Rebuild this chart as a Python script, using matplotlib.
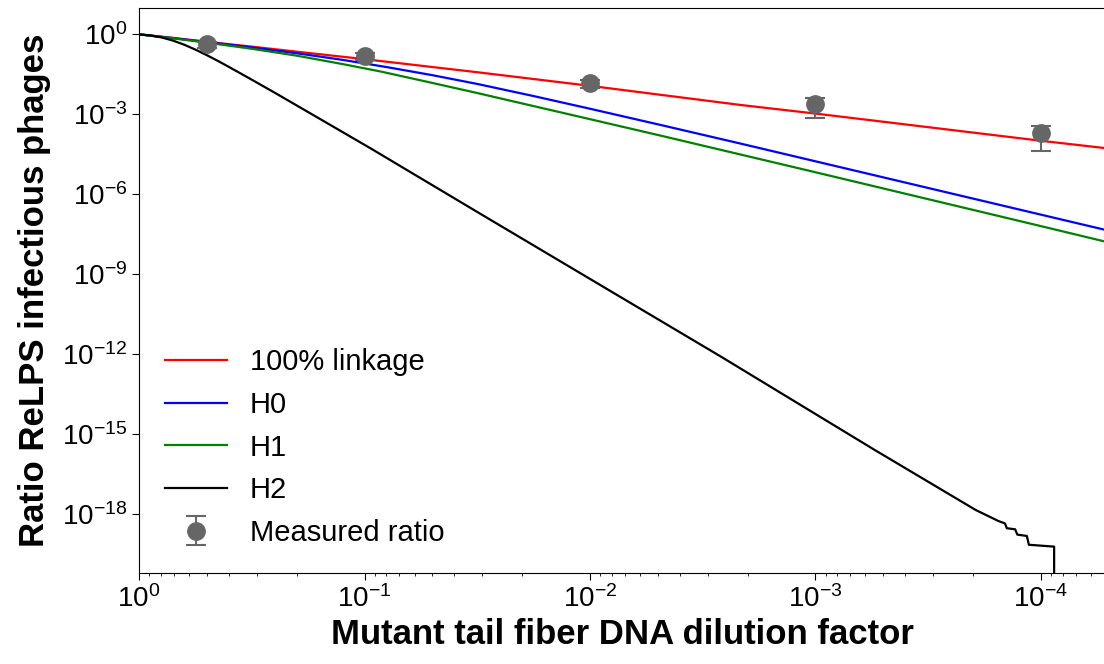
import numpy as np
import matplotlib

matplotlib.use("Agg")
import matplotlib.pyplot as plt
from matplotlib.ticker import NullLocator

plt.rcParams["font.family"] = ["Liberation Sans", "DejaVu Sans"]
plt.rcParams["mathtext.fontset"] = "custom"
plt.rcParams["mathtext.rm"] = "Liberation Sans"
plt.rcParams["mathtext.it"] = "Liberation Sans:italic"
plt.rcParams["mathtext.bf"] = "Liberation Sans:bold"

# model curves as log10(dilution) -> log10(ratio)
linkage_logx = [0, -0.15, -0.3, -0.5, -0.7, -1.0, -1.5, -2.0, -2.67, -3.0, -3.5, -4.0, -4.29]
linkage_logy = [0, -0.13, -0.28, -0.46, -0.65, -0.93, -1.42, -1.93, -2.65, -2.97, -3.48, -3.99, -4.27]

h0_logx = [0, -0.15, -0.3, -0.5, -0.7, -0.9, -1.1, -1.3, -1.5, -1.75, -2.0,
           -2.33, -2.67, -3.0, -3.5, -4.0, -4.29]
h0_logy = [0, -0.14, -0.285, -0.489, -0.709, -0.953, -1.229, -1.529, -1.859,
           -2.314, -2.789, -3.43, -4.10, -4.76, -5.76, -6.76, -7.34]

h1_logx = [0, -0.15, -0.3, -0.5, -0.7, -0.9, -1.07, -1.3, -1.5, -1.75, -2.0,
           -2.33, -2.67, -3.0, -3.5, -4.0, -4.29]
h1_logy = [0, -0.15, -0.31, -0.54, -0.80, -1.11, -1.39, -1.82, -2.20, -2.69,
           -3.18, -3.83, -4.51, -5.17, -6.18, -7.19, -7.78]

h2_logx = [0, -0.05, -0.1, -0.15, -0.2, -0.25, -0.3, -0.35, -0.4, -0.5, -0.6,
           -0.8, -1.03, -1.516, -2.0, -2.582, -3.264, -3.712, -3.812, -3.841,
           -3.849, -3.886, -3.896, -3.938, -3.947, -4.059]
h2_logy = [0, -0.04, -0.115, -0.232, -0.388, -0.572, -0.778, -0.998, -1.228,
           -1.70, -2.18, -3.16, -4.29, -6.74, -9.17, -12.09, -15.59, -17.84,
           -18.25, -18.34, -18.52, -18.56, -18.76, -18.81, -19.14, -19.21]
# the H2 curve collapses to zero at the last dilution
h2_tail_x = 10 ** -4.059

meas_x = [0.5, 0.1, 0.01, 1e-3, 1e-4]
meas_y = [0.42, 0.155, 0.0145, 2.37e-3, 2.07e-4]
meas_err = [0.12, 0.045, 0.0045, 1.63e-3, 1.63e-4]

fig = plt.figure(figsize=(11.04, 6.64), dpi=100)
ax = fig.add_axes([0.126, 0.137, 0.876, 0.851])

ax.plot(10.0 ** np.array(linkage_logx), 10.0 ** np.array(linkage_logy),
        color="red", lw=1.6, label="100% linkage")
ax.plot(10.0 ** np.array(h0_logx), 10.0 ** np.array(h0_logy),
        color="blue", lw=1.6, label="H0")
ax.plot(10.0 ** np.array(h1_logx), 10.0 ** np.array(h1_logy),
        color="green", lw=1.6, label="H1")
h2_x = np.append(10.0 ** np.array(h2_logx), h2_tail_x)
h2_y = np.append(10.0 ** np.array(h2_logy), 1e-40)
ax.plot(h2_x, h2_y, color="black", lw=1.6, label="H2")

ax.errorbar(meas_x, meas_y, yerr=meas_err, fmt="o", color="#666666",
            ecolor="#666666", markersize=12.5, capsize=7, elinewidth=1.5,
            capthick=1.5, label="Measured ratio", zorder=5)

ax.set_xscale("log")
ax.set_yscale("log")
ax.set_xlim(1.0, 10 ** -4.29)
ax.set_ylim(10 ** -20.2, 10 ** 0.99)
ax.set_yticks(10.0 ** np.arange(-18, 1, 3))
ax.yaxis.set_minor_locator(NullLocator())

ax.tick_params(axis="both", which="major", labelsize=20, length=5)
ax.set_xlabel("Mutant tail fiber DNA dilution factor", fontsize=25, fontweight="bold")
ax.set_ylabel("Ratio ReLPS infectious phages", fontsize=25, fontweight="bold",
              labelpad=8)

ax.legend(loc="lower left", fontsize=21, frameon=False, handlelength=2.1)

fig.savefig("out.png", dpi=100)
